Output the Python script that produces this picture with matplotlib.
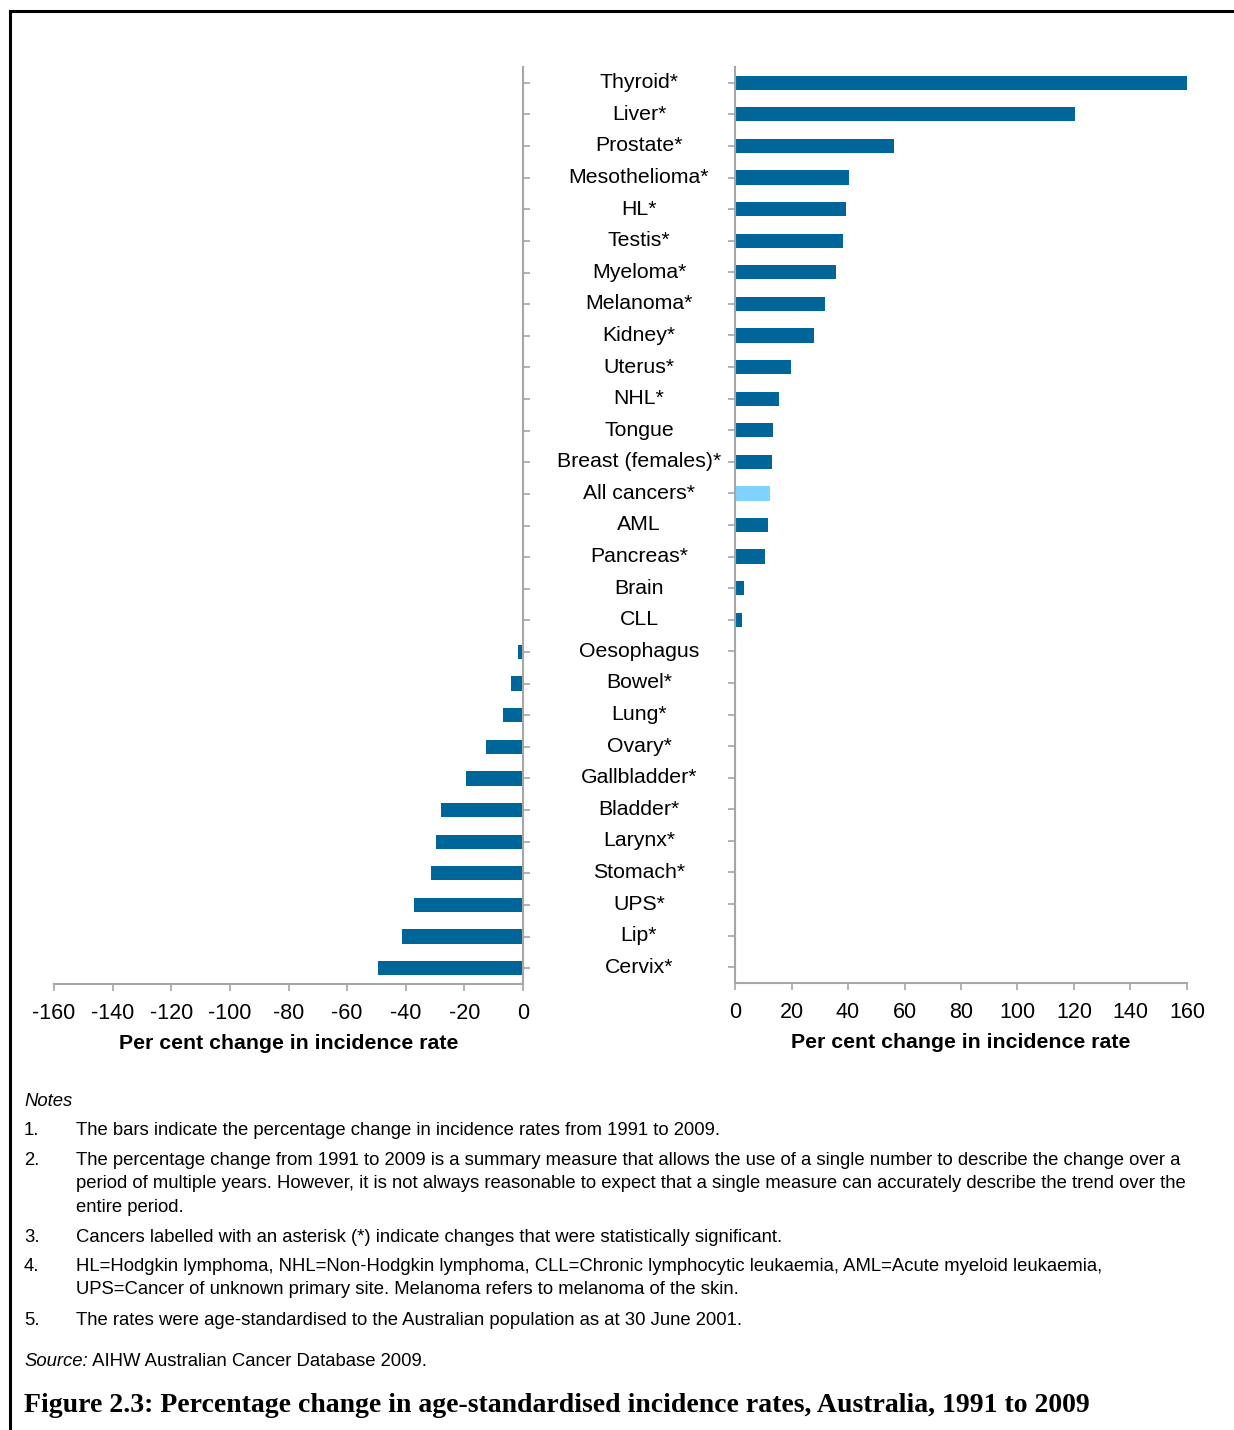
import numpy as np
import matplotlib.pyplot as plt
from matplotlib.transforms import blended_transform_factory
from matplotlib.lines import Line2D

plt.rcParams['font.family'] = ['Liberation Sans', 'DejaVu Sans']
plt.rcParams['axes.unicode_minus'] = False

cancers = ["Thyroid*", "Liver*", "Prostate*", "Mesothelioma*", "HL*", "Testis*",
           "Myeloma*", "Melanoma*", "Kidney*", "Uterus*", "NHL*", "Tongue",
           "Breast (females)*", "All cancers*", "AML", "Pancreas*", "Brain", "CLL",
           "Oesophagus", "Bowel*", "Lung*", "Ovary*", "Gallbladder*", "Bladder*",
           "Larynx*", "Stomach*", "UPS*", "Lip*", "Cervix*"]
pct_change = [160.3, 120.4, 56.3, 40.4, 39.3, 38.2,
              35.8, 31.9, 28.0, 19.8, 15.6, 13.5,
              13.1, 12.4, 11.7, 10.6, 3.2, 2.5,
              -1.7, -4.1, -6.8, -12.6, -19.5, -28.0,
              -29.7, -31.4, -37.2, -41.3, -49.5]
highlight = "All cancers*"

left_ticks = [-160, -140, -120, -100, -80, -60, -40, -20, 0]
right_ticks = [0, 20, 40, 60, 80, 100, 120, 140, 160]
xlabel = "Per cent change in incidence rate"

notes = [
    ("1.", "The bars indicate the percentage change in incidence rates from 1991 to 2009."),
    ("2.", "The percentage change from 1991 to 2009 is a summary measure that allows the use of a single number to describe the change over a\n"
           "period of multiple years. However, it is not always reasonable to expect that a single measure can accurately describe the trend over the\n"
           "entire period."),
    ("3.", "Cancers labelled with an asterisk (*) indicate changes that were statistically significant."),
    ("4.", "HL=Hodgkin lymphoma, NHL=Non-Hodgkin lymphoma, CLL=Chronic lymphocytic leukaemia, AML=Acute myeloid leukaemia,\n"
           "UPS=Cancer of unknown primary site. Melanoma refers to melanoma of the skin."),
    ("5.", "The rates were age-standardised to the Australian population as at 30 June 2001."),
]
source = " AIHW Australian Cancer Database 2009."
title = "Figure 2.3: Percentage change in age-standardised incidence rates, Australia, 1991 to 2009"

dark = '#00669A'
light = '#80D3FF'
grey = '#A6A6A6'

W, H = 1234, 1430
fig = plt.figure(figsize=(W / 100, H / 100), dpi=100)

def px_axes(x0, x1, y0, y1):
    return fig.add_axes([x0 / W, 1 - y1 / H, (x1 - x0) / W, (y1 - y0) / H])

ax_l = px_axes(54, 523, 67, 984)
ax_r = px_axes(735, 1187, 67, 983)

y = np.arange(len(cancers))
vals = np.array(pct_change)
colors = [light if c == highlight else dark for c in cancers]

# negative changes go on the left panel, positive on the right
neg = np.where(vals < 0, vals, 0)
pos = np.where(vals > 0, vals, 0)
ax_l.barh(y, neg, height=0.45, color=colors)
ax_r.barh(y, pos, height=0.45, color=colors)

for ax in (ax_l, ax_r):
    ax.set_ylim(len(cancers) - 0.5, -0.5)
    ax.set_yticks(y)
    ax.set_yticklabels([])
    ax.spines['top'].set_visible(False)
    for s in ax.spines.values():
        s.set_color(grey)
        s.set_linewidth(1.5)
    ax.tick_params(colors=grey, length=5, width=1.2, labelcolor='black', labelsize=15.5)
    ax.tick_params(axis='x', pad=9)
    ax.set_xlabel(xlabel, fontsize=15.3, fontweight='bold', labelpad=7)

ax_l.set_xlim(-160, 0)
ax_l.set_xticks(left_ticks)
ax_l.spines['left'].set_visible(False)
ax_l.yaxis.tick_right()

ax_r.set_xlim(0, 160)
ax_r.set_xticks(right_ticks)
ax_r.spines['right'].set_visible(False)

# category labels in the gap between the two panels
trans = blended_transform_factory(fig.transFigure, ax_r.transData)
for i, c in enumerate(cancers):
    fig.text(639 / W, i, c, transform=trans, ha='center', va='center', fontsize=15.3)

# notes block
fs = 13.3
fig.text(24 / W, 1 - 1101 / H, "Notes", fontsize=fs, style='italic', va='center')
note_y = [1122, 1152, 1229, 1258, 1312]
for (num, txt), yy in zip(notes, note_y):
    fig.text(24 / W, 1 - yy / H, num, fontsize=fs, va='top')
    fig.text(76 / W, 1 - yy / H, txt, fontsize=fs, va='top', linespacing=1.5)

src = fig.text(24 / W, 1 - 1361 / H, "Source:", fontsize=fs, style='italic', va='center')
fig.add_artist(plt.Annotation(source, xy=(1, 0.5), xycoords=src,
                              fontsize=fs, va='center', ha='left'))

fig.text(24 / W, 1 - 1405 / H, title, fontsize=20, fontweight='bold',
         family=['Liberation Serif', 'DejaVu Serif'], va='center')

# frame
fig.add_artist(Line2D([10 / W, 10 / W], [0, 1 - 11 / H], color='black', lw=2.2, transform=fig.transFigure))
fig.add_artist(Line2D([10 / W, 1], [1 - 11 / H, 1 - 11 / H], color='black', lw=2.2, transform=fig.transFigure))

fig.savefig('out.png', dpi=100)
